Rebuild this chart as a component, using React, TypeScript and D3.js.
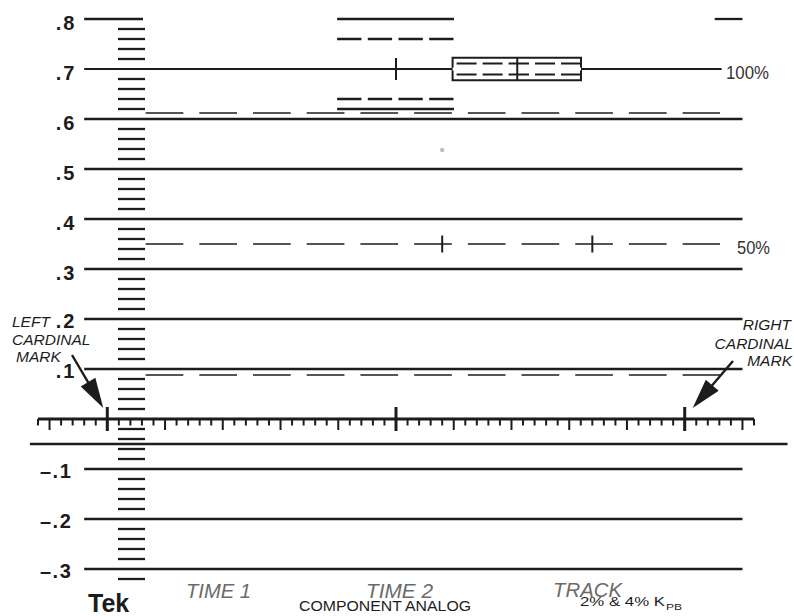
import React from "react";
import * as d3 from "d3";

// ---- graticule values ----
const gridLevels = [0.8, 0.7, 0.6, 0.5, 0.4, 0.3, 0.2, 0.1, -0.1, -0.2, -0.3];
const gridLabels = [".8", ".7", ".6", ".5", ".4", ".3", ".2", ".1", "–.1", "–.2", "–.3"];
const rulerSteps = d3.range(-16, 40).filter((i) => i % 5 !== 0); // every 0.02 between major lines
const dashedLevels = [0.612, 0.35, 0.088];
const percentMarks = [
  { level: 0.7, text: "100%" },
  { level: 0.35, text: "50%" },
];
const topSolidLevels = [0.8, 0.62];
const topDashedLevels = [0.76, 0.64];
const crossMarks = [
  { u: 31, level: 0.7, half: 0.022 },
  { u: 35, level: 0.35, half: 0.017 },
  { u: 48, level: 0.35, half: 0.017 },
];
const boxCenter = 0.7;
const boxHalf = 0.0225;
const boxDashHalf = 0.011;
const timeTicks = d3.range(0, 63);
const cardinalTicks = [6, 31, 56];
const grayDot = { u: 35, level: 0.538 };

const W = 794;
const H = 616;
const FONT = "'Liberation Sans', Arial, Helvetica, sans-serif";
const INK = "#1c1c1c";

function Arrow({ x1, y1, x2, y2 }: { x1: number; y1: number; x2: number; y2: number }) {
  const dx = x2 - x1;
  const dy = y2 - y1;
  const L = Math.hypot(dx, dy);
  const ux = dx / L;
  const uy = dy / L;
  const hl = 30;
  const hw = 8.5;
  const bx = x2 - ux * hl;
  const by = y2 - uy * hl;
  const pts = [
    [x2, y2],
    [bx - uy * hw, by + ux * hw],
    [bx + uy * hw, by - ux * hw],
  ];
  return (
    <g>
      <line x1={x1} y1={y1} x2={bx + ux * 2} y2={by + uy * 2} stroke={INK} strokeWidth={2.4} />
      <polygon points={pts.map((p) => p.join(",")).join(" ")} fill={INK} />
    </g>
  );
}

export default function App() {
  const x = d3.scaleLinear().domain([0, 62]).range([38, 754]);
  const y = d3.scaleLinear().domain([-0.3, 0.8]).range([569, 19]);

  const lineStart = x(4);
  const lineEnd = x(61);
  const rulerX1 = 118;
  const rulerX2 = 145;
  const dashStart = x(9.32);
  const dashEnd = x(59.06);

  const boxL = x(35.9);
  const boxR = x(47.02);
  const boxMid = x(41.5);
  const topL = x(25.9);
  const topR = x(36.02);

  return (
    <svg
      width={W}
      height={H}
      viewBox={`0 0 ${W} ${H}`}
      style={{ position: "absolute", left: 0, top: 0, background: "#fff" }}
      fontFamily={FONT}
    >
      <rect width={W} height={H} fill="#fff" />

      {/* major horizontal graticule lines */}
      {gridLevels.map((v) => {
        let x1 = lineStart;
        let x2 = lineEnd;
        let sw = 2.3;
        if (v === 0.8) x2 = rulerX2 - 2;
        if (v === 0.7) {
          x2 = x(59.2);
          sw = 1.9;
        }
        return <line key={v} x1={x1} x2={x2} y1={y(v)} y2={y(v)} stroke={INK} strokeWidth={sw} />;
      })}
      {/* short top-right segment at .8 */}
      <line x1={x(58.6)} x2={lineEnd} y1={y(0.8)} y2={y(0.8)} stroke={INK} strokeWidth={2.3} />

      {/* level labels */}
      {gridLevels.map((v, i) => {
        const neg = v < 0;
        const off = v >= 0.3 ? 10.5 : neg ? 9 : 8.5;
        return (
          <text
            key={"l" + v}
            x={neg ? 40 : 76.5}
            y={y(v) + off}
            textAnchor={neg ? "start" : "end"}
            fontSize={20}
            fontWeight="bold"
            letterSpacing={neg ? 1.5 : 2}
            fill={INK}
          >
            {gridLabels[i]}
          </text>
        );
      })}

      {/* vertical ruler ticks */}
      {rulerSteps.map((i) => (
        <line
          key={"r" + i}
          x1={rulerX1}
          x2={rulerX2}
          y1={y(i * 0.02)}
          y2={y(i * 0.02)}
          stroke={INK}
          strokeWidth={2.3}
        />
      ))}

      {/* long dashed reference lines */}
      {dashedLevels.map((v) => (
        <line
          key={"d" + v}
          x1={dashStart}
          x2={dashEnd}
          y1={y(v)}
          y2={y(v)}
          stroke={INK}
          strokeWidth={1.5}
          strokeDasharray="37.7 16"
        />
      ))}

      {/* percent labels */}
      {percentMarks.map((p) => (
        <text
          key={p.text}
          x={p.text === "100%" ? 726 : 737}
          y={y(p.level) + 10}
          fontSize={19}
          textLength={p.text === "100%" ? 43 : 33}
          lengthAdjust="spacingAndGlyphs"
          fill="#333"
        >
          {p.text}
        </text>
      ))}

      {/* top group */}
      {topSolidLevels.map((v) => (
        <line key={"ts" + v} x1={topL} x2={topR} y1={y(v)} y2={y(v)} stroke={INK} strokeWidth={2.3} />
      ))}
      {topDashedLevels.map((v) => (
        <line
          key={"td" + v}
          x1={topL}
          x2={topR}
          y1={y(v)}
          y2={y(v)}
          stroke={INK}
          strokeWidth={2.3}
          strokeDasharray="24.3 6.4"
        />
      ))}

      {/* box around 100% */}
      <rect
        x={boxL}
        y={y(boxCenter + boxHalf)}
        width={boxR - boxL}
        height={y(boxCenter - boxHalf) - y(boxCenter + boxHalf)}
        fill="#fff"
        stroke={INK}
        strokeWidth={2}
      />
      <line x1={boxL} x2={boxR} y1={y(boxCenter)} y2={y(boxCenter)} stroke="#fff" strokeWidth={3} />
      <line x1={boxMid} x2={boxMid} y1={y(boxCenter + boxHalf)} y2={y(boxCenter - boxHalf)} stroke={INK} strokeWidth={2} />
      {[boxCenter + boxDashHalf, boxCenter - boxDashHalf].map((v) => (
        <g key={"bd" + v}>
          <line x1={boxL + 4} x2={boxMid} y1={y(v)} y2={y(v)} stroke={INK} strokeWidth={1.9} strokeDasharray="20 6" />
          <line x1={boxR} x2={boxMid} y1={y(v)} y2={y(v)} stroke={INK} strokeWidth={1.9} strokeDasharray="20 6" />
        </g>
      ))}

      {/* crosses */}
      {crossMarks.map((c, i) => (
        <line
          key={"c" + i}
          x1={x(c.u)}
          x2={x(c.u)}
          y1={y(c.level + c.half)}
          y2={y(c.level - c.half)}
          stroke={INK}
          strokeWidth={2}
        />
      ))}

      {/* gray dot */}
      <circle cx={x(grayDot.u)} cy={y(grayDot.level)} r={2.2} fill="#bdbdbd" />

      {/* separator line below zero */}
      <line x1={x(-0.7)} x2={x(64.9)} y1={y(-0.05)} y2={y(-0.05)} stroke={INK} strokeWidth={2.3} />

      {/* horizontal time axis */}
      <line x1={x(0)} x2={x(62)} y1={y(0)} y2={y(0)} stroke={INK} strokeWidth={3} />
      {timeTicks.map((t) => {
        const long = (t - 1) % 5 === 0;
        return (
          <line
            key={"t" + t}
            x1={x(t)}
            x2={x(t)}
            y1={y(0)}
            y2={y(0) + (long ? 11 : 6.5)}
            stroke={INK}
            strokeWidth={2}
          />
        );
      })}
      {cardinalTicks.map((t) => (
        <line key={"ct" + t} x1={x(t)} x2={x(t)} y1={y(0) - 12} y2={y(0) + 12} stroke={INK} strokeWidth={3} />
      ))}

      {/* cardinal mark annotations */}
      <Arrow x1={72} y1={355} x2={x(6) - 4} y2={408} />
      <Arrow x1={733} y1={361} x2={x(56) + 8} y2={408} />
      <g fontStyle="italic" fontSize={15.5} fill={INK}>
        <text x={12} y={327}>LEFT</text>
        <text x={12} y={345}>CARDINAL</text>
        <text x={16} y={362}>MARK</text>
        <text x={791} y={330} textAnchor="end">RIGHT</text>
        <text x={793} y={349} textAnchor="end">CARDINAL</text>
        <text x={792} y={366} textAnchor="end">MARK</text>
      </g>

      {/* bottom labels */}
      <text x={88} y={612} fontSize={25} fontWeight="bold" fill={INK}>Tek</text>
      <g fontStyle="italic" fontSize={20} fill="#6a6a6a">
        <text x={186} y={598} textLength={65} lengthAdjust="spacingAndGlyphs">TIME 1</text>
        <text x={366} y={598} textLength={67} lengthAdjust="spacingAndGlyphs">TIME 2</text>
        <text x={553} y={597} textLength={69} lengthAdjust="spacingAndGlyphs">TRACK</text>
      </g>
      <text x={299} y={611} fontSize={15.5} textLength={172} lengthAdjust="spacingAndGlyphs" fill={INK}>
        COMPONENT ANALOG
      </text>
      <text x={580} y={606} fontSize={12.5} textLength={85} lengthAdjust="spacingAndGlyphs" fill={INK}>
        2% &amp; 4% K
      </text>
      <text x={666} y={610} fontSize={9.5} textLength={16} lengthAdjust="spacingAndGlyphs" fill={INK}>
        PB
      </text>
    </svg>
  );
}
